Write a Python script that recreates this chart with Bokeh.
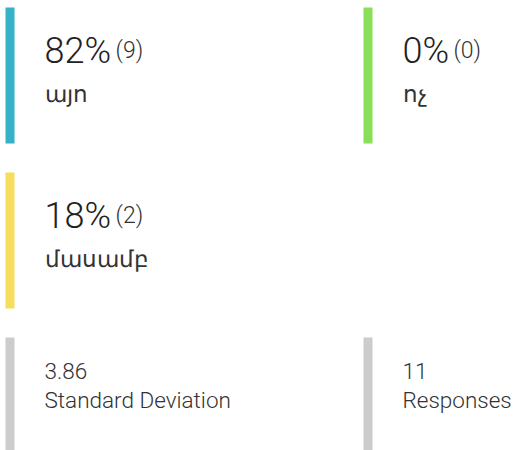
from bokeh.plotting import figure
from bokeh.models import ColumnDataSource, Range1d
from bokeh.core.properties import value
from bokeh.embed import file_html
from bokeh.resources import INLINE

# ---- data ----
labels = ["այո", "ոչ", "մասամբ"]
percents = [82, 0, 18]
counts = [9, 0, 2]
colors = ["#35b1c8", "#89df58", "#f6dd5c"]
stat_values = ["3.86", "11"]
stat_labels = ["Standard Deviation", "Responses"]
stat_color = "#cccccc"

# ---- layout (screen pixel coordinates) ----
W, H = 515, 450
col_x = [5, 363]
bar_w = 9
row_top = [7, 172, 337]
bar_h = 136
text_dx = 39

def cell(i):
    return col_x[i % 2], row_top[i // 2]

p = figure(width=W, height=H, output_backend="svg", toolbar_location=None,
           x_range=Range1d(0, W), y_range=Range1d(H, 0),
           min_border=0)
p.axis.visible = False
p.grid.visible = False
p.outline_line_color = None
p.background_fill_color = "white"
p.border_fill_color = "white"

# answer cards
bx, bt, bb, tx, pct_txt, cnt_txt, cx, base1, base2 = [], [], [], [], [], [], [], [], []
for i, (lab, pc, cn) in enumerate(zip(labels, percents, counts)):
    x, t = cell(i)
    bx.append(x); bt.append(t); bb.append(t + bar_h)
    tx.append(x + text_dx)
    s = f"{pc}%"
    pct_txt.append(s)
    cnt_txt.append(f"({cn})")
    width_est = sum(20.2 if ch.isdigit() else 25.7 for ch in s)
    cx.append(x + text_dx + width_est + 5)
    base1.append(t + 43)
    base2.append(t + 86)

src = ColumnDataSource(dict(left=bx, right=[b + bar_w for b in bx], top=bt, bottom=bb,
                            color=colors, tx=tx, pct=pct_txt, cnt=cnt_txt, cx=cx,
                            b1=base1, b2=base2, lab=labels))
p.quad(left="left", right="right", top="top", bottom="bottom", fill_color="color",
       line_color=None, source=src)
p.text(x="tx", y="b1", text="pct", source=src, text_font=value("Roboto Light"),
       text_font_size="36px", text_color="#222222", text_baseline="alphabetic")
p.text(x="cx", y="b1", text="cnt", source=src, text_font=value("Roboto Light"),
       text_font_size="23px", text_color="#333333", text_baseline="alphabetic")
p.text(x="tx", y="b2", text="lab", source=src, text_font=value("Roboto Light"),
       text_font_size="22.5px", text_color="#333333", text_baseline="alphabetic")

# stats cards
sx, st, sb, stx, sb1, sb2 = [], [], [], [], [], []
for j in range(len(stat_values)):
    x, t = cell(4 + j)
    sx.append(x); st.append(t); sb.append(H + 10)
    stx.append(x + text_dx)
    sb1.append(t + 33); sb2.append(t + 62)
ssrc = ColumnDataSource(dict(left=sx, right=[v + bar_w for v in sx], top=st, bottom=sb,
                             tx=stx, b1=sb1, b2=sb2, val=stat_values, lab=stat_labels))
p.quad(left="left", right="right", top="top", bottom="bottom", fill_color=stat_color,
       line_color=None, source=ssrc)
p.text(x="tx", y="b1", text="val", source=ssrc, text_font=value("Roboto Light"),
       text_font_size="22.5px", text_color="#333333", text_baseline="alphabetic")
p.text(x="tx", y="b2", text="lab", source=ssrc, text_font=value("Roboto Light"),
       text_font_size="22.5px", text_color="#333333", text_baseline="alphabetic")

open("out.html", "w").write(file_html(p, INLINE))
